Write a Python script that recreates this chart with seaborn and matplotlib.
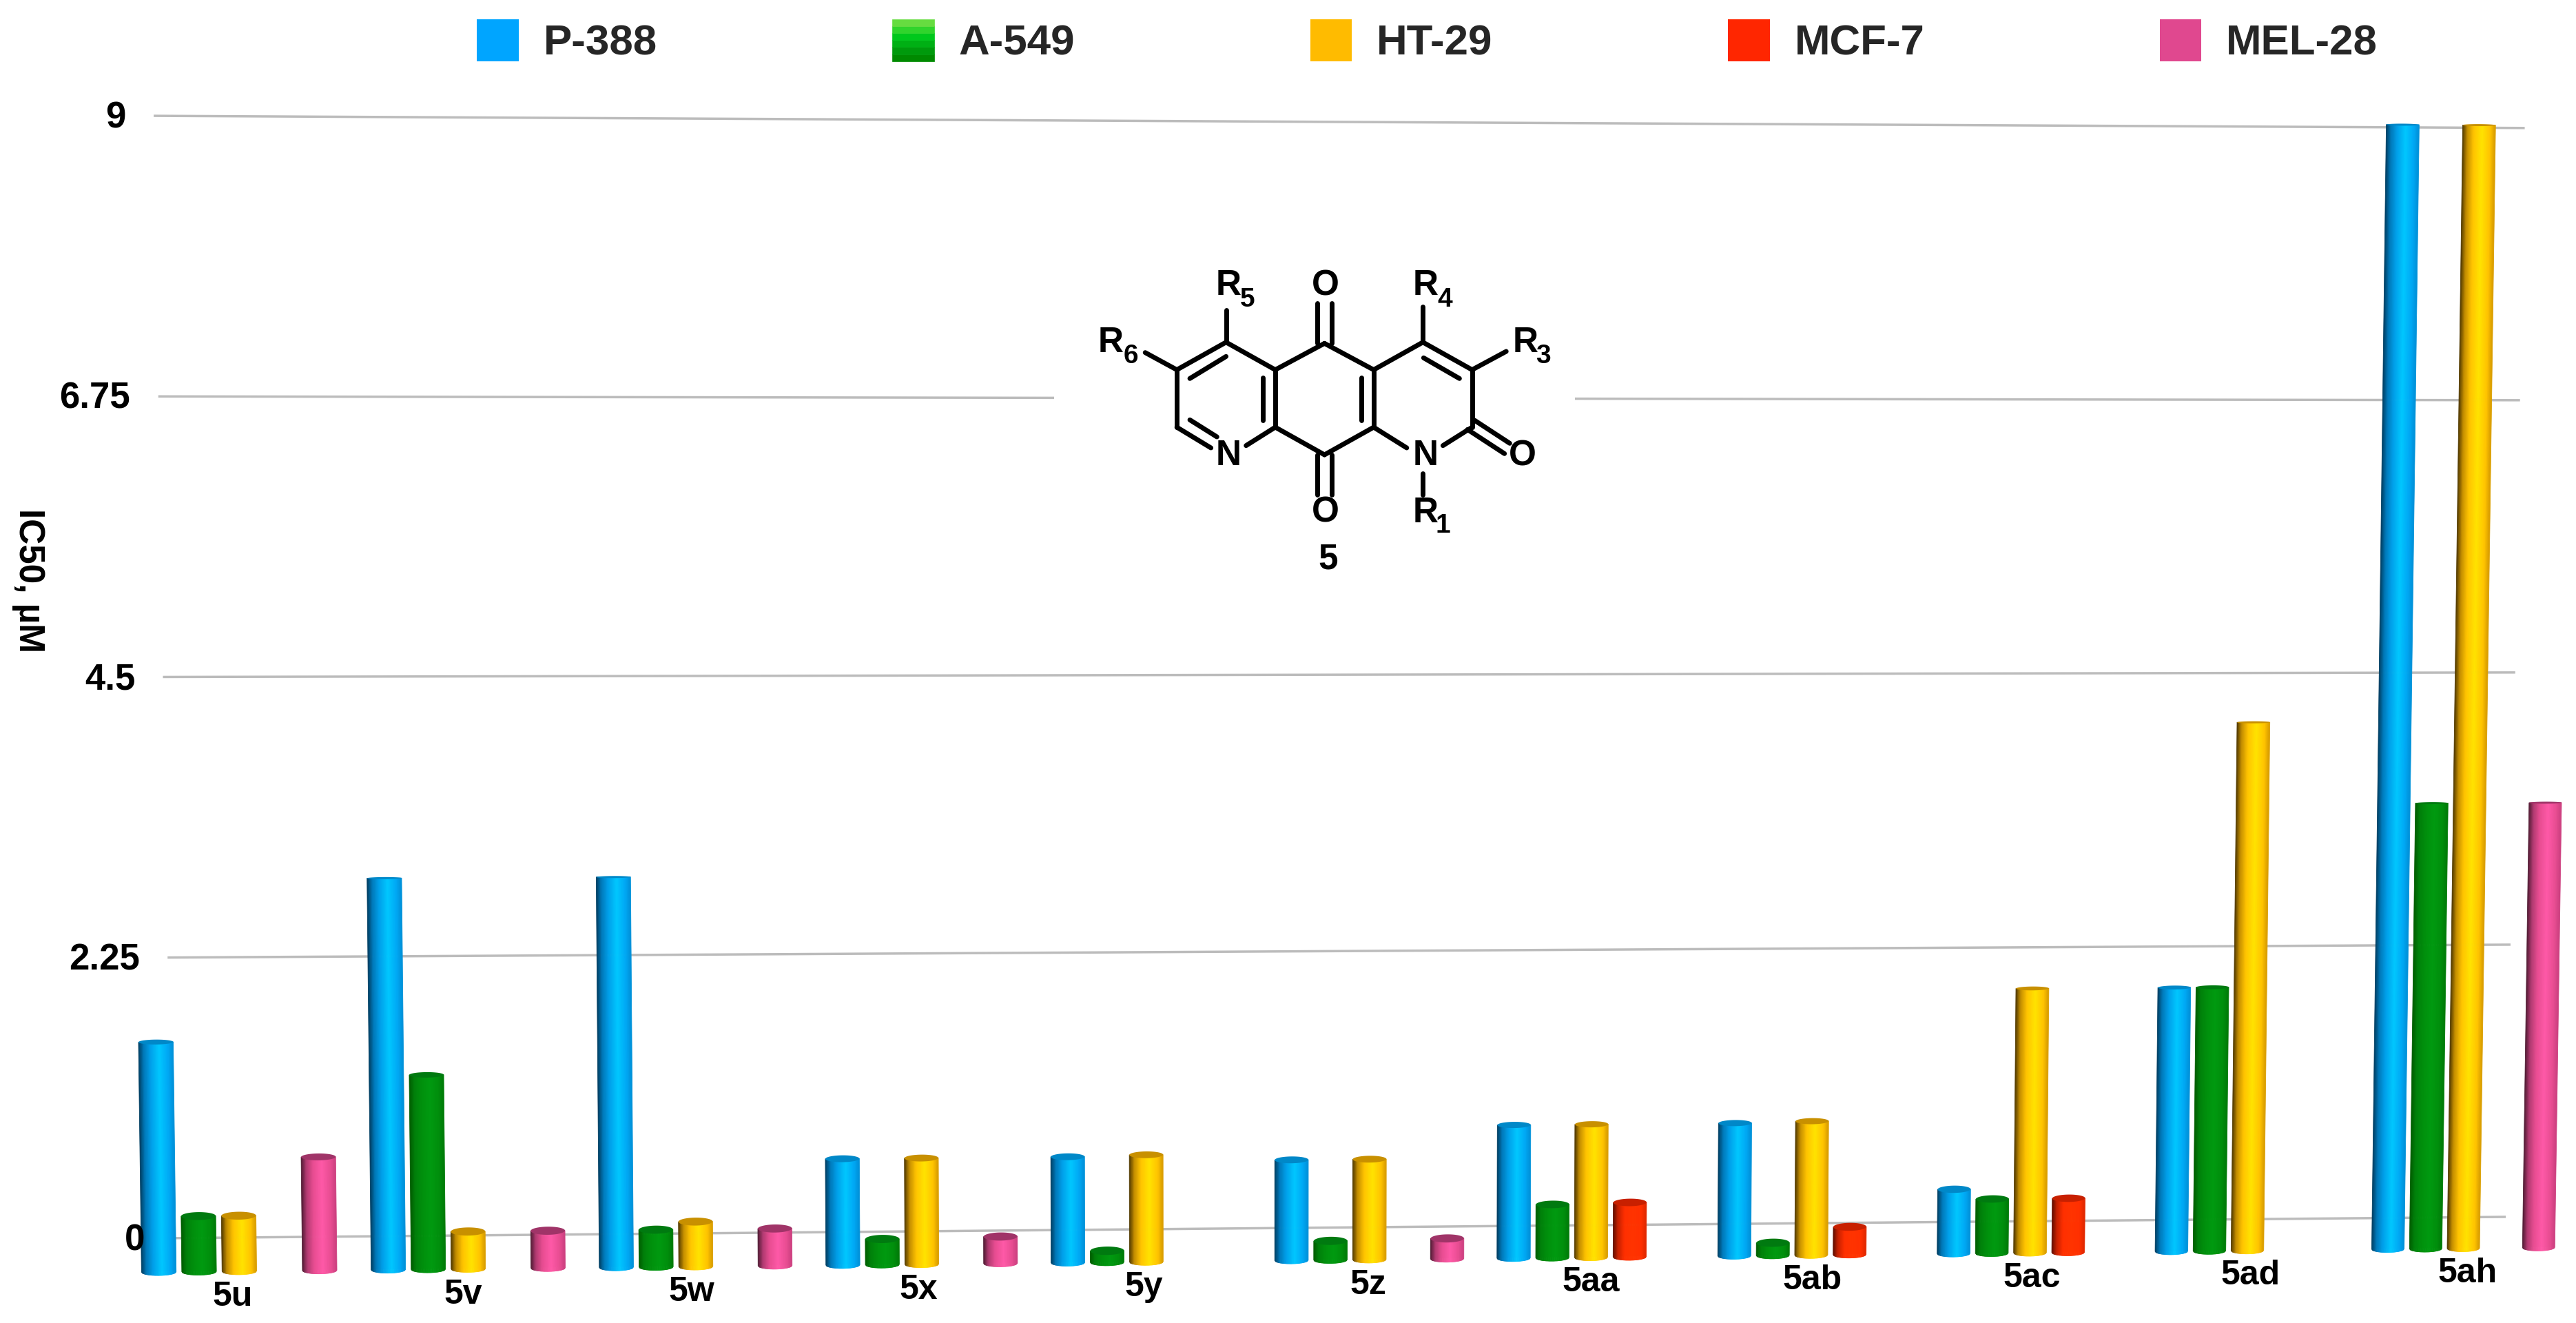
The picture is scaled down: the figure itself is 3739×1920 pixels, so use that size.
import numpy as np
import pandas as pd
import matplotlib
matplotlib.use("Agg")
import matplotlib.pyplot as plt
import matplotlib.transforms as mtransforms
from matplotlib.collections import PolyCollection
from matplotlib.colors import LinearSegmentedColormap
from matplotlib.legend_handler import HandlerPatch
from matplotlib.patches import Patch, Rectangle
import seaborn as sns

compounds = ["5u", "5v", "5w", "5x", "5y", "5z", "5aa", "5ab", "5ac", "5ad", "5ah"]
nan = np.nan
p388 = [1.78, 3.04, 3.04, 0.83, 0.83, 0.79, 1.05, 1.05, 0.51, 2.10, 8.98]
a549 = [0.43, 1.51, 0.29, 0.20, 0.09, 0.15, 0.42, 0.10, 0.43, 2.10, 3.56]
ht29 = [0.43, 0.29, 0.35, 0.83, 0.84, 0.79, 1.05, 1.06, 2.10, 4.21, 8.98]
mcf7 = [nan, nan, nan, nan, nan, nan, 0.43, 0.22, 0.43, nan, nan]
mel28 = [0.88, 0.29, 0.29, 0.21, nan, 0.16, nan, nan, nan, nan, 3.56]
lines = ["P-388", "A-549", "HT-29", "MCF-7", "MEL-28"]
colors = ["#00a5ff", "#00a81c", "#ffbb00", "#ff2600", "#e0488f"]
y_ticks = [0, 2.25, 4.5, 6.75, 9]
y_labels = ["0", "2.25", "4.5", "6.75", "9"]

# cylinder shading across each bar, left to right
shades = {
    "P-388": ["#003a5c", "#0078b8", "#00a0ea", "#00c8ff", "#00a8f4", "#0090d8"],
    "A-549": ["#005a00", "#007f0a", "#008f0c", "#009a10", "#008e0c", "#007a08"],
    "HT-29": ["#4a3400", "#c28c00", "#ffc400", "#ffe400", "#ffc400", "#d89c00"],
    "MCF-7": ["#5a0c00", "#c42000", "#ff3000", "#ff3400", "#ff3000", "#e02800"],
    "MEL-28": ["#4a1a30", "#b03a70", "#e84d92", "#ff5aa8", "#e84d92", "#cc4080"],
}
caps = {"P-388": "#0088c8", "A-549": "#007a10", "HT-29": "#c89000",
        "MCF-7": "#c82000", "MEL-28": "#a03468"}
stops = [0, 0.15, 0.35, 0.6, 0.85, 1]

W, H = 3739, 1920
FONT = "Liberation Sans"


class Plane(mtransforms.Transform):
    # tilted picture plane: category position and value to pixels
    input_dims = 2
    output_dims = 2
    has_inverse = False

    def __init__(self, dx, floor, floor_slope, scale, scale_slope, lean, center):
        super().__init__()
        self.p = (dx, floor, floor_slope, scale, scale_slope, lean, center)

    def transform_non_affine(self, values):
        dx, floor, floor_slope, scale, scale_slope, lean, center = self.p
        values = np.asarray(values, dtype=float)
        g, v = values[:, 0], values[:, 1]
        u = (334.6 * g + 343.4) / (0.0033 * g + 1) + dx
        h = v * (scale + scale_slope * (u - 229))
        x = u + lean * (u - center) * h
        y = floor + floor_slope * (u - 229) - h
        return np.column_stack([x, H - y])


front = Plane(4, 1846, -0.0103, 187.5, -0.00179, 8.07e-6, 1836)
back = Plane(0, 1797, -0.0091, 181, -0.00159, 1e-5, 1900)

sns.set_theme(style="white")
plt.rcParams["font.family"] = [FONT, "DejaVu Sans"]

df = pd.DataFrame({"compound": compounds, "P-388": p388, "A-549": a549,
                   "HT-29": ht29, "MCF-7": mcf7, "MEL-28": mel28})
df = df.melt(id_vars="compound", var_name="line", value_name="ic50")

fig = plt.figure(figsize=(W / 100, H / 100), dpi=100)
ax = fig.add_axes([0, 0, 1, 1])
sns.barplot(data=df, x="compound", y="ic50", hue="line", order=compounds,
            hue_order=lines, palette=colors, saturation=1, width=0.875, gap=0.14,
            errorbar=None, legend=False, ax=ax)

# bars: keep seaborn's rectangles, push through the plane and shade
for name, container in zip(lines, ax.containers):
    cmap = LinearSegmentedColormap.from_list(name, list(zip(stops, shades[name])))
    for rect in container:
        top = rect.get_height()
        if not np.isfinite(top) or top <= 0:
            continue
        rect.set_transform(front)
        x0, w = rect.get_x(), rect.get_width()
        mid = x0 + w / 2
        edges = np.linspace(x0, x0 + w, 41)
        t = np.clip((edges - mid) / (w / 2), -1, 1)
        drop = 5 * np.sqrt(1 - t ** 2) / 185
        polys = []
        for i in range(40):
            polys.append([(edges[i], -drop[i]), (edges[i + 1], -drop[i + 1]),
                          (edges[i + 1], top), (edges[i], top)])
        pc = PolyCollection(polys, transform=front, zorder=3, linewidths=0.6,
                            facecolors=cmap((np.arange(40) + 0.5) / 40), edgecolors="face")
        ax.add_collection(pc, autolim=False)
        top_y = H - front.transform(np.array([[mid, top]]))[0, 1]
        semi = max(1.5, 0.0085 * (top_y - 1100))
        a = np.linspace(0, 2 * np.pi, 60)
        ax.fill(mid + w / 2 * np.cos(a), top + semi / 185 * np.sin(a), color=caps[name],
                transform=front, zorder=4, lw=0)

# grid in the back plane
for v, lab in zip(y_ticks, y_labels):
    ax.plot([-0.28, 10.21], [v, v], color="#bcbcbc", lw=2.5, transform=back, zorder=2,
            solid_capstyle="butt")
    ax.text(-0.4, v - 0.02, lab, transform=back, ha="right", va="center", fontsize=38,
            fontweight="bold", color="black", zorder=5)

for i, lab in enumerate(compounds):
    ax.text(i - 0.03 + 0.005 * i, -0.2, lab, transform=front, ha="center", va="center",
            fontsize=36, fontweight="bold", color="black", zorder=5)

ax.set_axis_off()


class GradientSwatch(HandlerPatch):
    def create_artists(self, legend, orig_handle, xdescent, ydescent, width, height,
                       fontsize, trans):
        shade = ["#008a00", "#009a0c", "#00b014", "#00c81c", "#30d42c", "#66dc40"]
        parts = []
        for k, c in enumerate(shade):
            parts.append(Rectangle((-xdescent, -ydescent + k * height / 6), width, height / 6,
                                   facecolor=c, edgecolor=c, lw=0.5, transform=trans))
        return parts


handles = [Patch(facecolor=c, edgecolor="none") for c in colors]
ax.legend(handles, lines, ncol=5, loc="upper left", bbox_to_anchor=(692 / W, 1 - 28 / H),
          bbox_transform=fig.transFigure, frameon=False,
          prop={"family": FONT, "weight": "bold", "size": 44.6}, borderpad=0, borderaxespad=0,
          handlelength=0.98, handleheight=1.13, handletextpad=0.58, columnspacing=5.51,
          handler_map={handles[1]: GradientSwatch()})

# structure drawn on a pixel overlay
over = fig.add_axes([0, 0, 1, 1])
over.set_xlim(0, W)
over.set_ylim(H, 0)
over.set_axis_off()
over.add_patch(Rectangle((1530, 360), 756, 500, facecolor="white", edgecolor="none"))


def px(zx, zy):
    return 1500 + zx / 1.96, 360 + zy / 3


bonds = [
    (408, 530, 548, 410), (445, 568, 548, 472), (548, 410, 688, 530), (688, 530, 688, 780),
    (652, 565, 652, 750), (688, 780, 605, 860), (505, 870, 408, 780), (445, 748, 522, 822),
    (408, 780, 408, 530), (688, 530, 828, 415), (828, 415, 968, 530), (968, 530, 968, 780),
    (933, 565, 933, 750), (968, 780, 828, 900), (828, 900, 688, 780), (968, 530, 1108, 410),
    (1108, 410, 1248, 530), (1110, 478, 1212, 568), (1248, 530, 1248, 780), (1248, 780, 1165, 860),
    (968, 780, 1062, 870), (548, 410, 548, 270), (408, 530, 318, 455), (1108, 410, 1108, 255),
    (1248, 530, 1345, 450), (1108, 980, 1108, 1075), (808, 415, 808, 240), (848, 415, 848, 240),
    (808, 900, 808, 1075), (848, 900, 848, 1075), (1235, 790, 1340, 895), (1255, 750, 1355, 850),
]
for x1, y1, x2, y2 in bonds:
    a, b = px(x1, y1), px(x2, y2)
    over.plot([a[0], b[0]], [a[1], b[1]], color="black", lw=5, solid_capstyle="round")

atoms = [("N", 555, 905), ("N", 1115, 905), ("O", 830, 165), ("O", 830, 1152), ("O", 1392, 905),
         ("R", 555, 165), ("R", 1115, 165), ("R", 220, 412), ("R", 1400, 412), ("R", 1115, 1152),
         ("5", 838, 1355)]
for s, zx, zy in atoms:
    xp, yp = px(zx, zy)
    over.text(xp, yp, s, ha="center", va="center", fontsize=37, fontweight="bold", color="black")

subs = [("5", 608, 225), ("4", 1170, 225), ("6", 277, 470), ("3", 1450, 470), ("1", 1165, 1210)]
for s, zx, zy in subs:
    xp, yp = px(zx, zy)
    over.text(xp, yp, s, ha="center", va="center", fontsize=28, fontweight="bold", color="black")

over.text(41, 842, "IC50, µM", rotation=270, ha="center", va="center", fontsize=37,
          fontweight="bold", color="black")

fig.savefig("out.png", dpi=100, facecolor="white")
